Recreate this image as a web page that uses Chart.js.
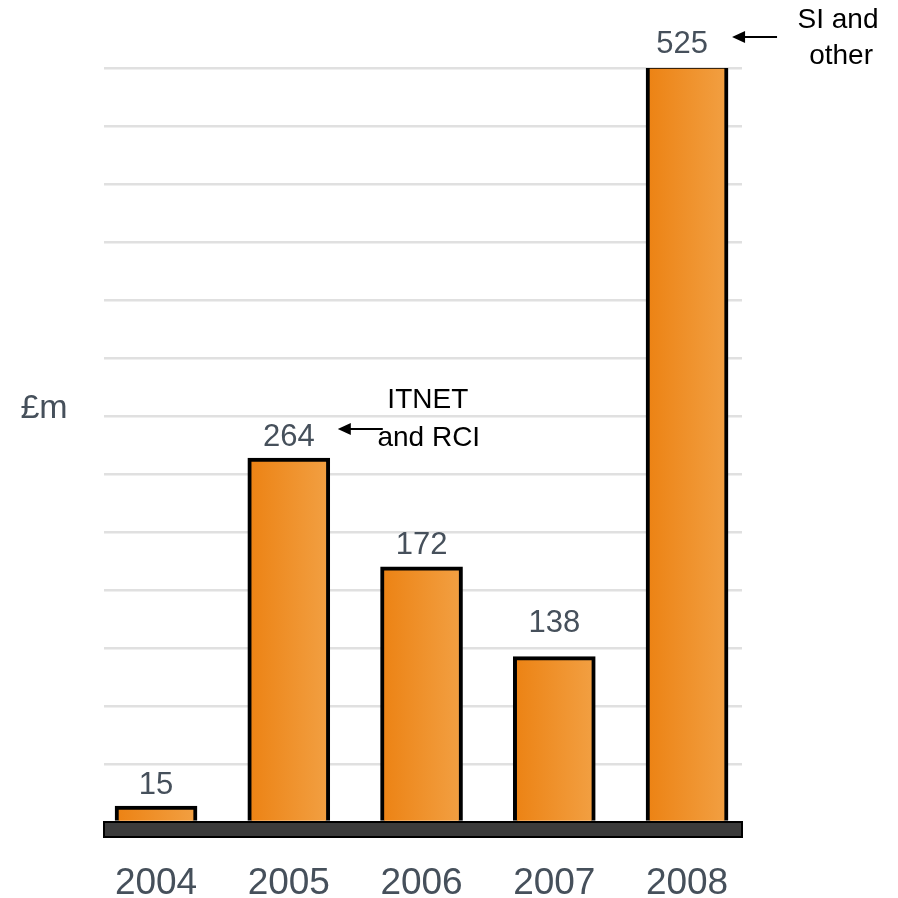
<!DOCTYPE html>
<html>
<head>
<meta charset="utf-8">
<script src="https://cdn.jsdelivr.net/npm/chart.js@4.4.1/dist/chart.umd.min.js"></script>
<style>
  html,body{margin:0;padding:0;background:#fff;}
  canvas{display:block;}
</style>
</head>
<body>
<canvas id="chart" width="898" height="898"></canvas>
<script>
/* ================= DATA ================= */
const years = ['2004', '2005', '2006', '2007', '2008'];
const valueLabels = [15, 264, 172, 138, 525];      // figures printed above the bars
const barHeights = [11, 251, 176, 114, 522];       // bar heights as drawn (£m, 40 per gridline)
const gridStep = 40;
const axisMax = 520;

const FONT = '"Liberation Sans", Arial, sans-serif';
const TEXT_GREY = '#46505b';
const BAR_W = 82;

function arrowLeft(ctx, x1, x2, y){
  // line from x2 to x1 with head at x1
  ctx.save();
  ctx.strokeStyle = '#000'; ctx.fillStyle = '#000'; ctx.lineWidth = 2;
  ctx.beginPath(); ctx.moveTo(x2, y); ctx.lineTo(x1 + 10, y); ctx.stroke();
  ctx.beginPath(); ctx.moveTo(x1, y); ctx.lineTo(x1 + 13, y - 6); ctx.lineTo(x1 + 13, y + 6); ctx.closePath(); ctx.fill();
  ctx.restore();
}

function barFill(c){
  const sx = c.chart.scales && c.chart.scales.x;
  if(!sx || c.dataIndex == null) return '#ef9230';
  const px = sx.getPixelForValue(c.dataIndex);
  if(!isFinite(px)) return '#ef9230';
  const g = c.chart.ctx.createLinearGradient(px - BAR_W/2, 0, px + BAR_W/2, 0);
  g.addColorStop(0, '#ec8213');
  g.addColorStop(1, '#f2a043');
  return g;
}

const decor = {
  id: 'decor',
  afterDatasetsDraw(chart){
    const ctx = chart.ctx, a = chart.chartArea;
    // base plinth
    ctx.save();
    ctx.fillStyle = '#3b3b3b'; ctx.strokeStyle = '#000'; ctx.lineWidth = 2;
    ctx.fillRect(a.left, a.bottom, a.right - a.left, 15);
    ctx.strokeRect(a.left, a.bottom, a.right - a.left, 15);
    ctx.restore();

    const bars = chart.getDatasetMeta(0).data;
    ctx.save();
    ctx.textAlign = 'center'; ctx.textBaseline = 'middle';
    ctx.fillStyle = TEXT_GREY; ctx.font = '31px ' + FONT;
    bars.forEach((bar, i) => ctx.fillText(String(valueLabels[i]), bar.x - (i === 4 ? 5 : 0), bar.y - (i === 3 ? 33 : 21)));

    // £m label
    ctx.font = '34px ' + FONT;
    ctx.fillText('£m', a.left - 60, 409);

    // annotations
    ctx.fillStyle = '#000'; ctx.font = '28px ' + FONT;
    const b05 = bars[1];
    ctx.fillText('ITNET', b05.x + 139, b05.y - 58);
    ctx.fillText('and RCI', b05.x + 140, b05.y - 20);
    arrowLeft(ctx, b05.x + 49, b05.x + 94, b05.y - 29);
    const b08 = bars[4];
    ctx.fillText('SI and', b08.x + 151, b08.y - 45);
    ctx.fillText('other', b08.x + 154, b08.y - 9);
    arrowLeft(ctx, b08.x + 45, b08.x + 90, b08.y - 28);
    ctx.restore();
  }
};

new Chart(document.getElementById('chart'), {
  type: 'bar',
  data: {
    datasets: [{
      data: barHeights.map((h, i) => ({x: i, y: h})),
      backgroundColor: barFill,
      borderColor: '#000',
      borderWidth: 4,
      borderSkipped: 'bottom',
      barThickness: BAR_W
    }]
  },
  options: {
    responsive: false,
    animation: false,
    layout: { padding: { top: 68, right: 156, left: 0, bottom: 0 } },
    plugins: { legend: {display: false}, tooltip: {enabled: false} },
    scales: {
      x: {
        type: 'linear', min: -0.392, max: 4.414, offset: false,
        grid: {display: false, drawTicks: false}, border: {display: false},
        afterBuildTicks: s => { s.ticks = years.map((_, i) => ({value: i})); },
        afterFit: s => { s.height = 76; },
        ticks: { callback: v => years[v], color: TEXT_GREY, font: {size: 37, family: FONT}, padding: 40, maxRotation: 0, autoSkip: false }
      },
      y: {
        min: 0, max: axisMax,
        grid: {color: '#e0e0e0', lineWidth: 2.5, drawTicks: false},
        border: {display: false},
        afterFit: s => { s.width = 104; },
        ticks: { stepSize: gridStep, display: false }
      }
    }
  },
  plugins: [decor]
});
</script>
</body>
</html>
